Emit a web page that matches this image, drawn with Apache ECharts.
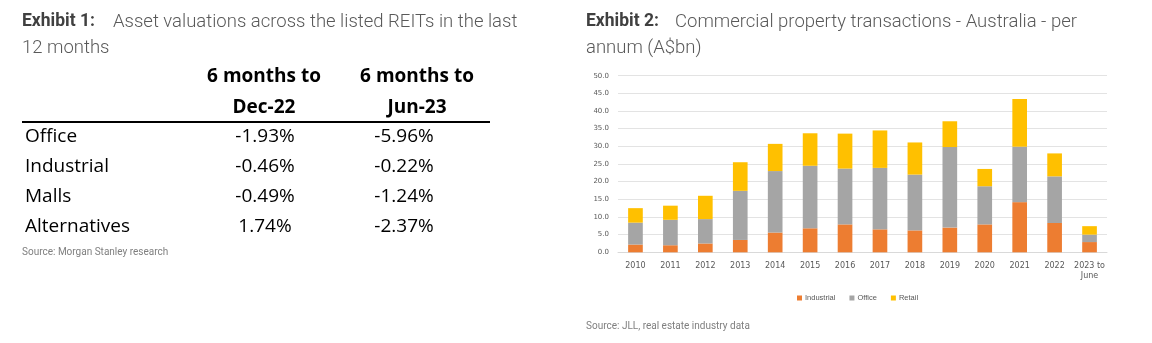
<!DOCTYPE html>
<html>
<head>
<meta charset="utf-8">
<script src="https://cdn.jsdelivr.net/npm/echarts@6/dist/echarts.min.js"></script>
<style>
html,body{margin:0;padding:0;background:#fff;}
#c{width:1152px;height:343px;}
</style>
</head>
<body>
<div id="c"></div>
<script>
// ---- Exhibit 1 table data ----
const tableRows = ['Office', 'Industrial', 'Malls', 'Alternatives'];
const tableCol1 = ['-1.93%', '-0.46%', '-0.49%', '1.74%'];
const tableCol2 = ['-5.96%', '-0.22%', '-1.24%', '-2.37%'];
const tableHeaders = [['6 months to', 'Dec-22'], ['6 months to', 'Jun-23']];

// ---- Exhibit 2 chart data ----
const years = ['2010','2011','2012','2013','2014','2015','2016','2017','2018','2019','2020','2021','2022','2023 to\nJune'];
const industrial = [2.2, 2.0, 2.5, 3.5, 5.6, 6.8, 7.9, 6.5, 6.2, 7.0, 7.9, 14.2, 8.3, 2.9];
const office     = [6.2, 7.2, 6.9, 13.9, 17.4, 17.7, 15.8, 17.4, 15.8, 22.8, 10.8, 15.7, 13.2, 2.1];
const retail     = [4.1, 4.0, 6.6, 8.1, 7.7, 9.2, 9.9, 10.6, 9.1, 7.3, 4.9, 13.5, 6.5, 2.4];
const yTicks = { min: 0, max: 50, interval: 5 };

const chart = echarts.init(document.getElementById('c'), null, { renderer: 'canvas' });

const titleFont = 'Roboto';
const tableFont = 'Open Sans';
const graphics = [];

function txt(x, y, t, opts) {
  graphics.push({
    type: 'text', x: x, y: y,
    style: Object.assign({ text: t, fontFamily: titleFont, fontSize: 18.5, fontWeight: 300, fill: '#595959', textVerticalAlign: 'middle' }, opts || {})
  });
}
// titles
txt(22, 22, 'Exhibit 1:', { fontWeight: 'bold', fontSize: 17.5, fill: '#404040' });
txt(113, 22, 'Asset valuations across the listed REITs in the last');
txt(22, 48, '12 months');
txt(586, 22, 'Exhibit 2:', { fontWeight: 'bold', fontSize: 17.5, fill: '#404040' });
txt(675, 22, 'Commercial property transactions - Australia - per');
txt(586, 48, 'annum (A$bn)');

// table headers
const colX = [264, 417];
const valX = [265, 404];
tableHeaders.forEach((h, i) => {
  h.forEach((line, j) => {
    graphics.push({ type: 'text', x: colX[i], y: 77 + j * 31,
      style: { text: line, fontFamily: tableFont, fontWeight: 'bold', fontSize: 19, fill: '#000', textAlign: 'center', textVerticalAlign: 'middle' } });
  });
});
graphics.push({ type: 'line', shape: { x1: 22, y1: 122, x2: 490, y2: 122 }, style: { stroke: '#000', lineWidth: 2 } });
tableRows.forEach((r, i) => {
  const y = 137 + i * 30;
  const base = { fontFamily: tableFont, fontSize: 19, fill: '#000', textVerticalAlign: 'middle' };
  graphics.push({ type: 'text', x: 25, y: y, style: Object.assign({ text: r }, base) });
  graphics.push({ type: 'text', x: valX[0], y: y, style: Object.assign({ text: tableCol1[i], textAlign: 'center' }, base) });
  graphics.push({ type: 'text', x: valX[1], y: y, style: Object.assign({ text: tableCol2[i], textAlign: 'center' }, base) });
});
txt(22, 252, 'Source: Morgan Stanley research', { fontSize: 10, fill: '#7f7f7f', fontWeight: 'normal' });
txt(586, 326, 'Source: JLL, real estate industry data', { fontSize: 10, fill: '#7f7f7f', fontWeight: 'normal' });

const colors = ['#ED7D31', '#A5A5A5', '#FFC000'];
function barSeries(name, data, color) {
  return { name: name, type: 'bar', stack: 'total', data: data, barWidth: '42%', itemStyle: { color: color } };
}

chart.setOption({
  animation: false,
  graphic: graphics,
  grid: { left: 618, top: 75.7, width: 489, height: 176.6, containLabel: false },
  legend: {
    left: 792, top: 289, itemWidth: 5, itemHeight: 5, itemGap: 14, icon: 'rect',
    textStyle: { fontSize: 7.5, color: '#595959', fontFamily: 'Liberation Sans', padding: [0, 0, 0, -2] },
    data: ['Industrial', 'Office', 'Retail']
  },
  xAxis: {
    type: 'category', data: years,
    axisLine: { show: true, lineStyle: { color: '#d9d9d9' } },
    axisTick: { show: false },
    axisLabel: { fontSize: 8, color: '#595959', margin: 9, lineHeight: 10, interval: 0, fontFamily: 'DejaVu Sans' }
  },
  yAxis: {
    type: 'value', min: yTicks.min, max: yTicks.max, interval: yTicks.interval,
    axisLine: { show: false }, axisTick: { show: false },
    splitLine: { lineStyle: { color: '#e3e3e3', width: 1 } },
    axisLabel: { fontSize: 7, color: '#595959', margin: 9, formatter: v => v.toFixed(1), fontFamily: 'DejaVu Sans' }
  },
  series: [
    barSeries('Industrial', industrial, colors[0]),
    barSeries('Office', office, colors[1]),
    barSeries('Retail', retail, colors[2])
  ]
});
</script>
</body>
</html>
